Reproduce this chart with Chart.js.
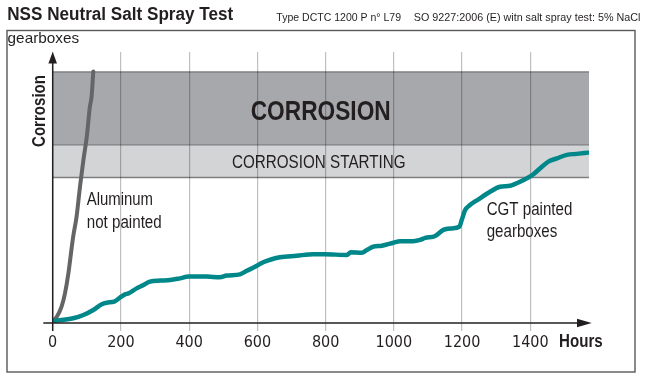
<!DOCTYPE html>
<html><head><meta charset="utf-8">
<script src="https://cdn.jsdelivr.net/npm/chart.js@4.4.1/dist/chart.umd.min.js"></script>
<style>html,body{margin:0;padding:0;background:#fff;overflow:hidden}canvas{display:block}</style>
</head><body>
<canvas id="c" width="650" height="378"></canvas>
<script>
// ---- data ----
const cgtHours  = [0,60,90,119,144,158,180,197,212,222,246,266,285,315,344,373,398,452,490,510,549,569,593,617,642,666,715,764,798,862,874,906,921,940,965,999,1018,1057,1077,1092,1121,1145,1170,1192,1199,1209,1223,1248,1282,1311,1341,1360,1390,1409,1429,1453,1478,1507,1536,1570];
const cgtValues = [0.8,1.9,3.2,5.2,7.5,8.1,8.5,10.1,11.4,11.8,13.8,15.1,16.5,16.9,17.1,17.8,18.5,18.5,18.2,18.9,19.4,20.8,22.4,24.2,25.4,26.2,26.8,27.4,27.4,27.1,28.2,28.0,29.1,30.4,30.8,32.0,32.6,32.6,33.1,33.9,34.7,37.1,37.7,38.4,41.1,45.0,47.0,49.3,52.3,54.3,54.7,55.7,57.7,59.3,61.7,64.3,65.6,67.0,67.4,67.9];
const aluHours  = [0,12,26,36,46,56,60,70,80,90,100,109,114,119];
const aluValues = [0.8,2.5,6.5,11.8,19.8,30.4,34.4,42.4,54.3,65.0,74.3,86.2,90.2,100.2];
const xTickValues = [0,200,400,600,800,1000,1200,1400];
const xMax = 1572;
const yMax = 108;
const bandLimits = [58, 71, 100];
const bandLabels = ['CORROSION STARTING', 'CORROSION'];
const titleText = 'NSS Neutral Salt Spray Test';
const subtitleParts = ['Type DCTC 1200 P n° L79', 'SO 9227:2006 (E) witn salt spray test: 5% NaCl'];
const unitText = 'gearboxes';
const yTitle = 'Corrosion';
const xTitle = 'Hours';
const aluLabel = ['Aluminum', 'not painted'];
const cgtLabel = ['CGT painted', 'gearboxes'];

// ---- fonts ----
function hasFont(name){
  const c=document.createElement('canvas').getContext('2d');
  c.font='40px monospace'; const a=c.measureText('1400 Hours abc').width;
  c.font=`40px '${name}', monospace`; const b=c.measureText('1400 Hours abc').width;
  return Math.abs(a-b)>0.5;
}
let tickFamily, tickSize;
if (hasFont('Liberation Sans Narrow')) { tickFamily="'Liberation Sans Narrow'"; tickSize=18; }
else if (hasFont('DejaVu Sans Condensed')) { tickFamily="'DejaVu Sans Condensed'"; tickSize=16; }
else { tickFamily="'Liberation Sans', Arial, sans-serif"; tickSize=15; }
const BASE = "'Liberation Sans', Arial, sans-serif";
const TXT = '#231f20';

function fitText(ctx, text, x, y, w, font, align){
  ctx.save();
  ctx.font = font;
  const m = ctx.measureText(text).width;
  const s = w / m;
  ctx.translate(x, y);
  ctx.scale(s, 1);
  ctx.textAlign = 'left';
  ctx.textBaseline = 'alphabetic';
  let ox = 0;
  if (align === 'center') ox = -m/2; else if (align === 'right') ox = -m;
  ctx.fillText(text, ox, 0);
  ctx.restore();
}

const decor = {
  id: 'decor',
  beforeDraw(chart){
    const {ctx, scales:{x, y}} = chart;
    ctx.save();
    ctx.fillStyle = '#fff';
    ctx.fillRect(0, 0, chart.width, chart.height);
    const x0 = x.getPixelForValue(0), x1 = x.getPixelForValue(xMax);
    const yb0 = y.getPixelForValue(bandLimits[0]);
    const yb1 = y.getPixelForValue(bandLimits[1]);
    const yb2 = y.getPixelForValue(bandLimits[2]);
    ctx.fillStyle = '#d3d4d6';
    ctx.fillRect(x0, yb1, x1 - x0, yb0 - yb1);
    ctx.fillStyle = '#a7a8ab';
    ctx.fillRect(x0, yb2, x1 - x0, yb1 - yb2);
    ctx.strokeStyle = '#7d7e80';
    ctx.lineWidth = 1.4;
    [yb0, yb1, yb2].forEach(py => { ctx.beginPath(); ctx.moveTo(x0, py); ctx.lineTo(x1, py); ctx.stroke(); });
    ctx.restore();
  },
  beforeDatasetsDraw(chart){
    const {ctx} = chart;
    ctx.save();
    ctx.fillStyle = TXT;
    fitText(ctx, bandLabels[1], 320.7, 120, 140, 'bold 28px ' + BASE, 'center');
    fitText(ctx, bandLabels[0], 318.8, 168.3, 173.7, '18px ' + BASE, 'center');
    ctx.restore();
  },
  afterDraw(chart){
    const {ctx, scales:{x, y}} = chart;
    const ox = x.getPixelForValue(0), oy = y.getPixelForValue(0);
    ctx.save();
    ctx.strokeStyle = '#58595b';
    ctx.lineWidth = 1.4;
    ctx.strokeRect(7, 30.5, 628, 341.5);
    ctx.strokeStyle = TXT; ctx.fillStyle = TXT;
    ctx.lineWidth = 1.5;
    ctx.beginPath(); ctx.moveTo(43.3, oy); ctx.lineTo(582, oy); ctx.stroke();
    ctx.beginPath(); ctx.moveTo(ox, oy + 8); ctx.lineTo(ox, 60); ctx.stroke();
    ctx.beginPath(); ctx.moveTo(591.7, oy); ctx.lineTo(577, oy - 4.3); ctx.lineTo(577, oy + 4.3); ctx.closePath(); ctx.fill();
    ctx.beginPath(); ctx.moveTo(ox, 51.7); ctx.lineTo(ox - 4.3, 63.5); ctx.lineTo(ox + 4.3, 63.5); ctx.closePath(); ctx.fill();
    fitText(ctx, titleText, 7.2, 20.2, 226, 'bold 18px ' + BASE, 'left');
    fitText(ctx, subtitleParts[0], 276.3, 21.3, 124.7, '10.5px ' + BASE, 'left');
    fitText(ctx, subtitleParts[1], 413.8, 21.3, 226.6, '10.5px ' + BASE, 'left');
    fitText(ctx, unitText, 7.6, 42.7, 71.5, '15px ' + BASE, 'left');
    fitText(ctx, xTitle, 559, 347, 43.7, 'bold 18px ' + BASE, 'left');
    ctx.save();
    ctx.translate(45, 111);
    ctx.rotate(-Math.PI/2);
    fitText(ctx, yTitle, 0, 0, 72, 'bold 18px ' + BASE, 'center');
    ctx.restore();
    fitText(ctx, aluLabel[0], 86.7, 205, 66.3, '17.5px ' + BASE, 'left');
    fitText(ctx, aluLabel[1], 86.7, 227.5, 75, '17.5px ' + BASE, 'left');
    fitText(ctx, cgtLabel[0], 486.7, 215, 85.6, '17.5px ' + BASE, 'left');
    fitText(ctx, cgtLabel[1], 486.7, 236.8, 70.6, '17.5px ' + BASE, 'left');
    ctx.restore();
  }
};

new Chart(document.getElementById('c'), {
  type: 'line',
  data: {
    datasets: [
      { label: cgtLabel.join(' '), data: cgtHours.map((h,i)=>({x:h, y:cgtValues[i]})),
        borderColor: '#00878a', borderWidth: 4.5, pointRadius: 0, cubicInterpolationMode: 'monotone',
        borderCapStyle: 'round', borderJoinStyle: 'round', fill: false },
      { label: aluLabel.join(' '), data: aluHours.map((h,i)=>({x:h, y:aluValues[i]})),
        borderColor: '#646567', borderWidth: 4, pointRadius: 0, cubicInterpolationMode: 'monotone',
        borderCapStyle: 'round', borderJoinStyle: 'round', fill: false }
    ]
  },
  options: {
    responsive: false, animation: false, events: [],
    layout: { padding: { left: 52.7, right: 61, top: 52, bottom: 0 } },
    plugins: { legend: { display: false }, tooltip: { enabled: false }, title: { display: false } },
    scales: {
      x: {
        type: 'linear', min: 0, max: xMax,
        afterBuildTicks: s => { s.ticks = xTickValues.map(v => ({ value: v })); },
        afterFit: s => { s.height = 55; },
        grid: { color: 'rgba(0,0,0,0.25)', lineWidth: 1.2, tickLength: 8, drawOnChartArea: true },
        border: { display: false },
        ticks: { font: { family: tickFamily, size: tickSize }, color: TXT, padding: 2, maxRotation: 0, autoSkip: false,
                 callback: v => String(v) }
      },
      y: { type: 'linear', min: 0, max: yMax, display: false }
    }
  },
  plugins: [decor]
});
</script>
</body></html>
